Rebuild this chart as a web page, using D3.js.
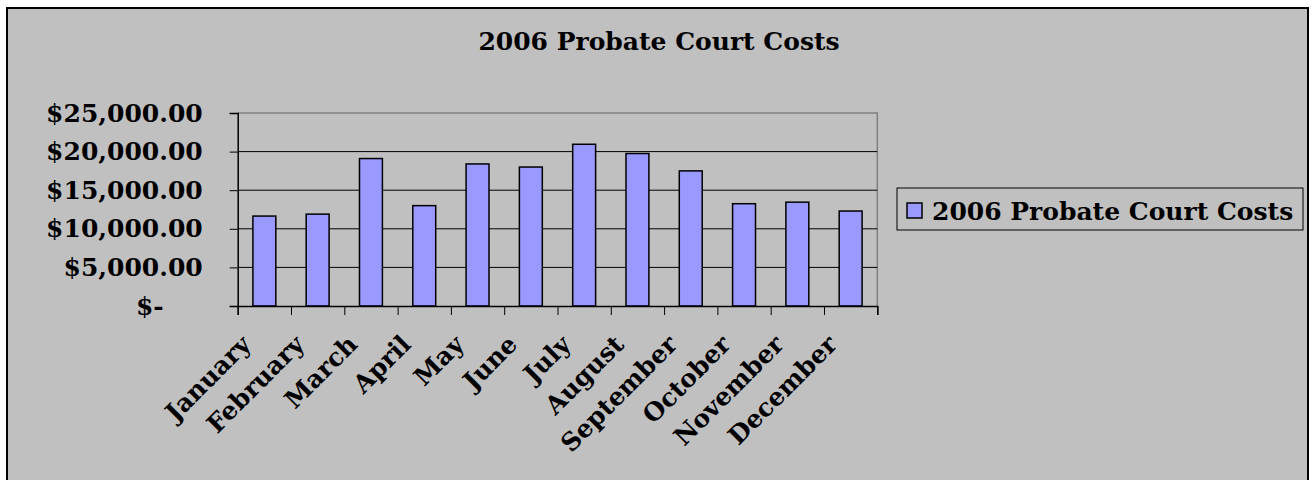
<!DOCTYPE html>
<html>
<head>
<meta charset="utf-8">
<script src="https://cdn.jsdelivr.net/npm/d3@7"></script>
<style>
  body { margin: 0; background: #fff; }
  text { font-family: "DejaVu Serif", serif; font-weight: bold; fill: #000; }
</style>
</head>
<body>
<script>
const months = ["January", "February", "March", "April", "May", "June",
  "July", "August", "September", "October", "November", "December"];
const costs = [11650, 11900, 19100, 13000, 18400, 18000,
  20950, 19750, 17500, 13250, 13450, 12300];
const yTicks = [0, 5000, 10000, 15000, 20000, 25000];
const seriesName = "2006 Probate Court Costs";
const chartTitle = "2006 Probate Court Costs";

const W = 1312, H = 480;
const plotL = 237.7, plotR = 877.3, plotT = 113, plotB = 306;
const fs = "25px";

const svg = d3.select("body").append("svg")
  .attr("width", W)
  .attr("height", H);

// chart area
svg.append("rect")
  .attr("x", 7).attr("y", 8)
  .attr("width", 1301).attr("height", 490)
  .attr("fill", "#c0c0c0")
  .attr("stroke", "#000")
  .attr("stroke-width", 2);

svg.append("text")
  .attr("x", 659).attr("y", 50)
  .attr("text-anchor", "middle")
  .style("font-size", fs)
  .text(chartTitle);

const x = d3.scaleBand()
  .domain(months)
  .range([plotL, plotR])
  .paddingInner(0.57)
  .paddingOuter(0.285);

const y = d3.scaleLinear()
  .domain([0, 25000])
  .range([plotB, plotT]);

// plot frame (top + right in gray)
svg.append("path")
  .attr("d", `M${plotL},${plotT}H${plotR}V${plotB}`)
  .attr("fill", "none")
  .attr("stroke", "#808080")
  .attr("stroke-width", 1.5);

// gridlines
svg.append("g")
  .selectAll("line")
  .data(yTicks.filter(v => v > 0 && v < 25000))
  .join("line")
  .attr("x1", plotL).attr("x2", plotR)
  .attr("y1", d => y(d)).attr("y2", d => y(d))
  .attr("stroke", "#000")
  .attr("stroke-width", 1);

// bars
svg.append("g")
  .selectAll("rect")
  .data(costs)
  .join("rect")
  .attr("x", (d, i) => x(months[i]))
  .attr("y", d => y(d))
  .attr("width", x.bandwidth())
  .attr("height", d => y(0) - y(d))
  .attr("fill", "#9999ff")
  .attr("stroke", "#000")
  .attr("stroke-width", 1.5);

// y axis
const money = d3.format(",.2f");
const yAxis = svg.append("g")
  .attr("transform", `translate(${plotL},0)`)
  .call(d3.axisLeft(y)
    .tickValues(yTicks)
    .tickSize(8)
    .tickPadding(27)
    .tickFormat(v => v === 0 ? "$-" : "$" + money(v)));
yAxis.select(".domain").attr("stroke", "#000").attr("stroke-width", 1.5);
yAxis.selectAll(".tick line").attr("stroke", "#000");
yAxis.selectAll(".tick text")
  .style("font-size", fs)
  .attr("font-family", null)
  .attr("dx", d => d === 0 ? -39 : 0);

// x axis: boundary ticks
const xb = d3.scaleLinear().domain([0, months.length]).range([plotL, plotR]);
const xTicks = svg.append("g")
  .attr("transform", `translate(0,${plotB})`)
  .call(d3.axisBottom(xb)
    .tickValues(d3.range(months.length + 1))
    .tickSize(9)
    .tickFormat(""));
xTicks.select(".domain").attr("stroke", "#000").attr("stroke-width", 1.5);
xTicks.selectAll(".tick line").attr("stroke", "#000");

// x axis labels
const xAxis = svg.append("g")
  .attr("transform", `translate(0,${plotB})`)
  .call(d3.axisBottom(x).tickSize(0).tickPadding(0));
xAxis.select(".domain").remove();
xAxis.selectAll(".tick text")
  .style("font-size", fs)
  .attr("font-family", null)
  .attr("text-anchor", "end")
  .attr("dy", null)
  .attr("transform", "translate(-12,40) rotate(-45)");

// legend
const lg = svg.append("g").attr("transform", "translate(897,188)");
lg.append("rect")
  .attr("width", 406).attr("height", 42)
  .attr("fill", "none")
  .attr("stroke", "#000")
  .attr("stroke-width", 1);
lg.append("rect")
  .attr("x", 10).attr("y", 15)
  .attr("width", 15).attr("height", 15)
  .attr("fill", "#9999ff")
  .attr("stroke", "#000")
  .attr("stroke-width", 1.5);
lg.append("text")
  .attr("x", 35).attr("y", 32)
  .style("font-size", fs)
  .text(seriesName);
</script>
</body>
</html>
